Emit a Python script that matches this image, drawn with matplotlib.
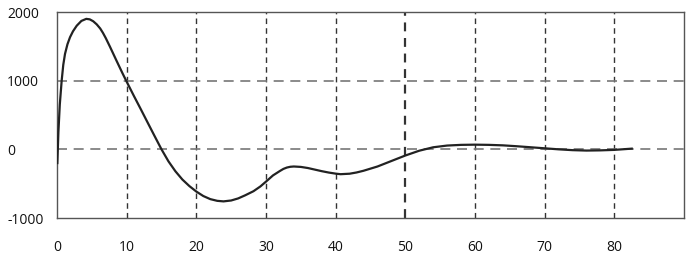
import matplotlib
matplotlib.use("Agg")
import matplotlib.pyplot as plt

# curve
x = [0.05, 0.2, 0.4, 0.67, 0.9, 1.15, 1.5, 1.87, 2.3, 2.83, 3.5, 4.2, 4.7, 5.2,
     5.7, 6.2, 6.6, 7.0, 7.6, 8.5, 9.4, 10, 11, 12, 13, 14, 15, 16, 17, 18, 19,
     20, 21, 22, 23, 23.9, 25, 26, 27, 28.2, 29.2, 30, 31, 32, 32.5, 33, 33.5, 34,
     35, 36, 37, 38, 39, 40, 40.7, 42, 43, 44, 46, 48, 50, 52, 54, 56, 58, 60, 62,
     64, 66, 68, 70, 72, 74, 76, 78, 80, 82.5]
y = [-200, 250, 650, 1000, 1230, 1390, 1530, 1633, 1720, 1800, 1870, 1900, 1893,
     1865, 1820, 1760, 1695, 1620, 1495, 1300, 1108, 985, 785, 590, 392, 195, 0,
     -175, -320, -440, -535, -615, -680, -725, -750, -758, -745, -715, -670, -610,
     -540, -470, -380, -315, -285, -265, -254, -250, -256, -272, -295, -318, -338,
     -354, -362, -355, -337, -312, -250, -170, -90, -20, 30, 55, 65, 68, 65, 58,
     45, 30, 15, 0, -12, -18, -15, -8, 10]

xticks = [0, 10, 20, 30, 40, 50, 60, 70, 80]
yticks = [-1000, 0, 1000, 2000]

fig = plt.figure(figsize=(6.93, 2.64), dpi=100)
ax = fig.add_axes([57/693, 1-218/264, (684-57)/693, (218-12)/264])

ax.plot(x, y, color="#222222", lw=1.6, zorder=3, solid_joinstyle="round")

ax.set_xlim(0, 90)
ax.set_ylim(-1000, 2000)
ax.set_xticks(xticks)
ax.set_yticks(yticks)
ax.set_yticklabels([str(v) for v in yticks], ha="left")
ax.tick_params(axis="both", length=0, labelsize=10, colors="#111111")
ax.tick_params(axis="x", pad=16)
ax.tick_params(axis="y", pad=36)

for v in xticks[1:]:
    ax.axvline(v, color="#333333", lw=1.0 if v != 50 else 1.6,
               ls=(0, (4, 3)), zorder=1)
for v in [0, 1000]:
    ax.axhline(v, color="#777777", lw=1.2, ls=(0, (6, 4)), zorder=1)

for s in ax.spines.values():
    s.set_color("#555555")
    s.set_linewidth(1.0)

for lab in ax.get_xticklabels() + ax.get_yticklabels():
    lab.set_family(["Open Sans", "DejaVu Sans"])

fig.savefig("out.png", dpi=100)
